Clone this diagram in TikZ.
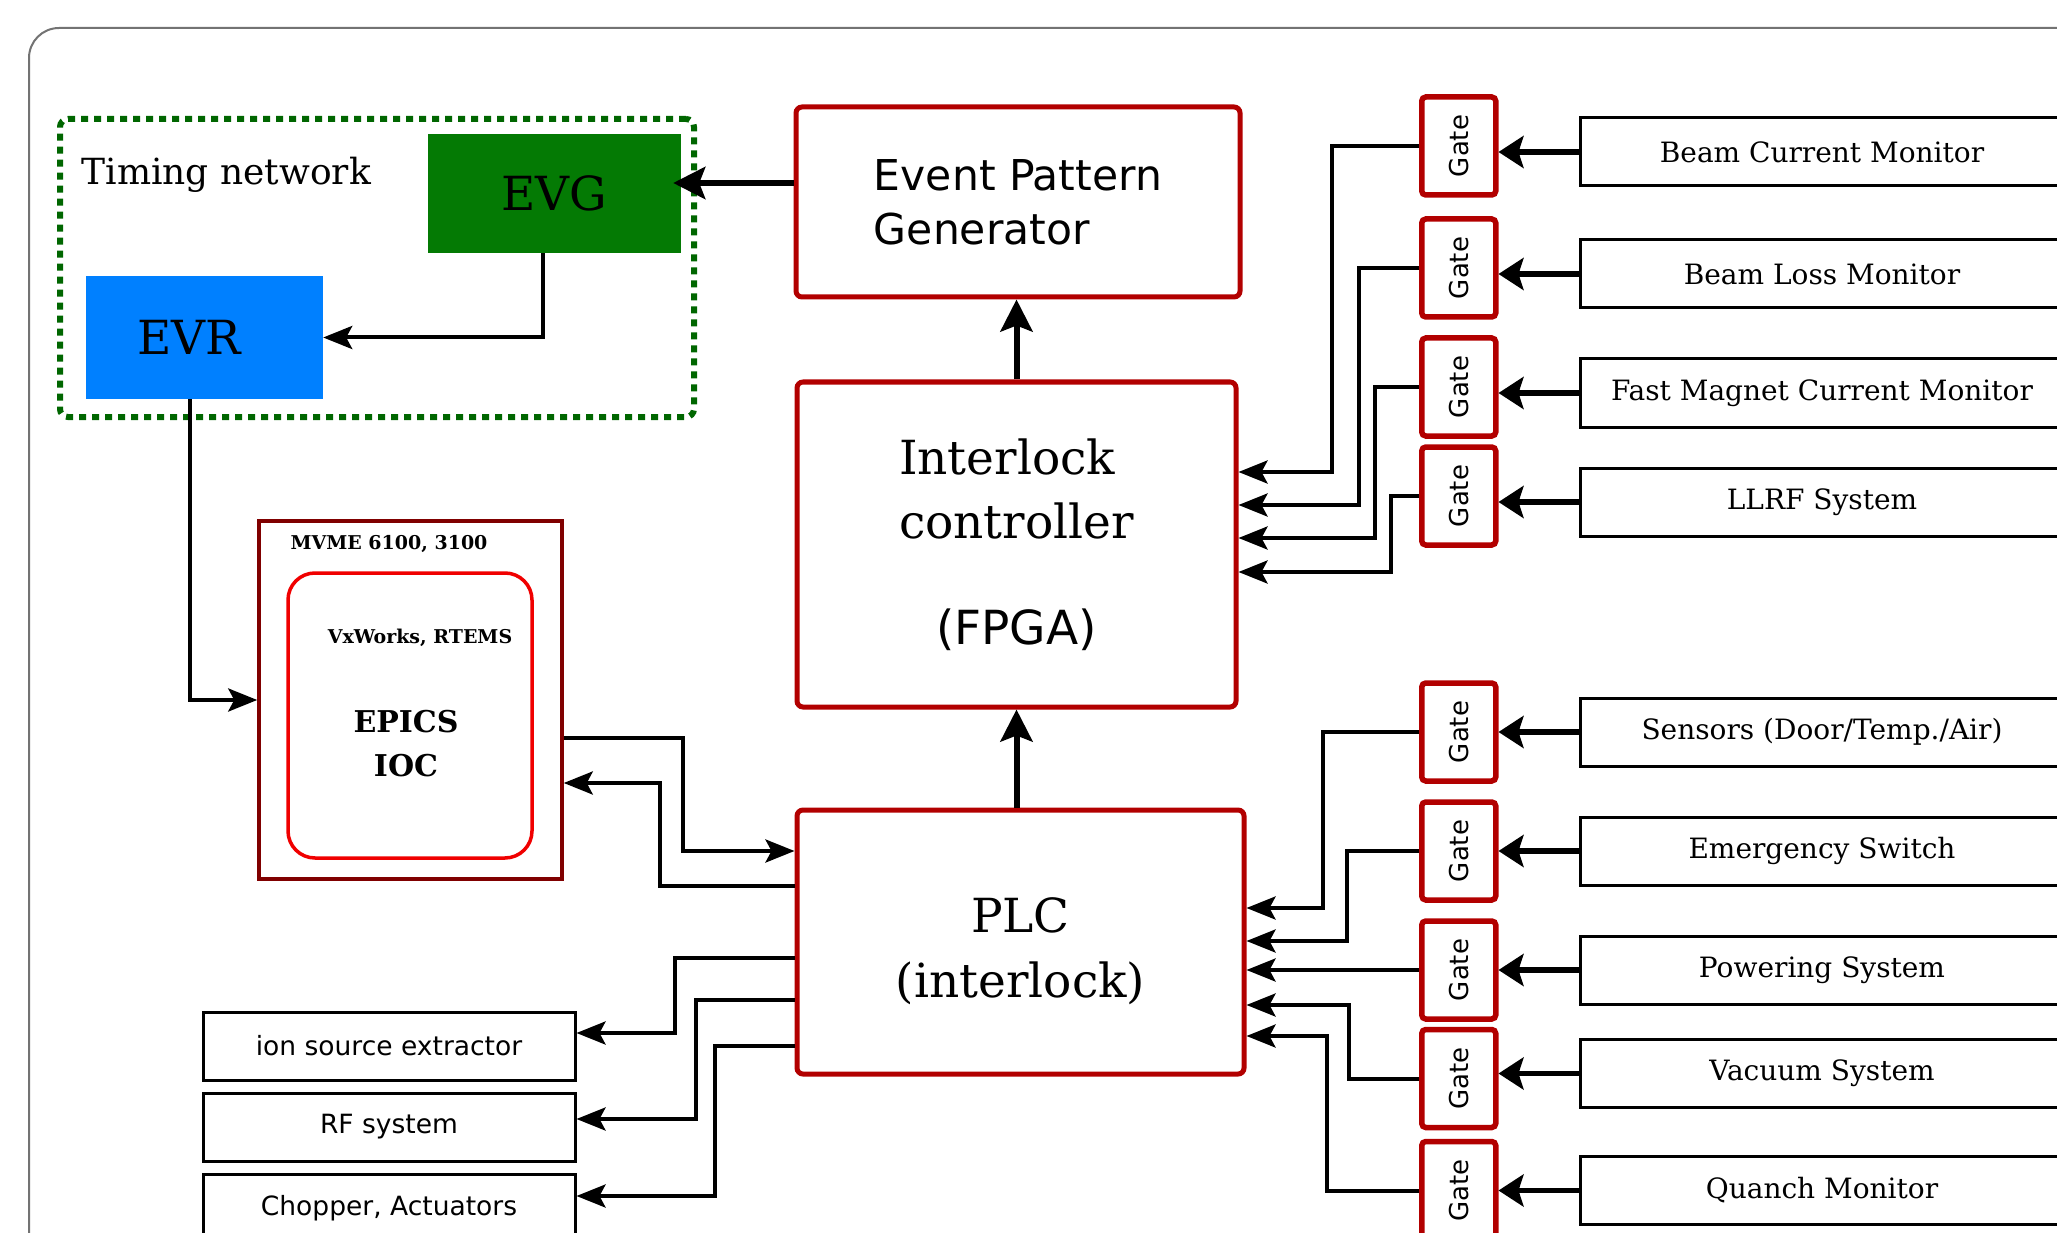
\documentclass[tikz,border=0pt]{standalone}
\usepackage{fontspec}
\setmainfont{DejaVu Serif}
\setsansfont{DejaVu Sans}
\usepackage{graphicx}
\usetikzlibrary{arrows.meta,positioning}
\definecolor{boxred}{RGB}{178,0,0}
\definecolor{mvred}{RGB}{128,0,0}
\definecolor{iocred}{RGB}{240,0,0}
\definecolor{evggreen}{RGB}{4,122,4}
\definecolor{evrblue}{RGB}{0,128,255}
\definecolor{netgreen}{RGB}{0,102,0}
\newcommand{\fsz}[2]{\fontsize{#1}{#2}\selectfont}

\begin{document}
\begin{tikzpicture}[x=1pt,y=-1pt,
  outerfr/.style={draw=black!55,line width=2pt,rounded corners=30pt},
  tnet/.style={draw=netgreen,line width=6pt,dash pattern=on 7pt off 6pt,rounded corners=8pt,
               minimum width=634pt,minimum height=298pt},
  evbx/.style={inner sep=0pt,font=\fsz{47}{56}},
  rbox/.style={draw=boxred,line width=5pt,rounded corners=6pt},
  gatebx/.style={draw=boxred,line width=5.5pt,rounded corners=4pt,minimum width=74pt,
                 minimum height=98pt,inner sep=0pt,font=\sffamily\fsz{26}{30}},
  monbx/.style={draw,line width=3pt,minimum width=484pt,minimum height=68pt,font=\fsz{28}{34}},
  outbx/.style={draw,line width=3pt,minimum width=372pt,minimum height=68pt,
                font=\sffamily\fsz{26.5}{32}},
  cn/.style={-{Stealth[length=29pt,width=23pt,inset=6pt]},line width=4pt},
  inp/.style={-{Stealth[length=25pt,width=32pt,inset=5pt]},line width=5.5pt},
  thk/.style={-{Stealth[length=32pt,width=32pt,inset=6pt]},line width=6pt}
]
\useasboundingbox (0,0) rectangle (2057,1233);
\clip (0,0) rectangle (2057,1233);
\draw[outerfr] (29,28) rectangle (2140,1320);

% timing network
\node[tnet] (tnet) at (377,268) {};
\node[anchor=base west,font=\fsz{36}{42}] (tlbl) at (78,185) {Timing network};
\node[evbx,fill=evggreen,minimum width=253pt,minimum height=119pt] (evg) at (554.5,193.5) {EVG};
\node[evbx,fill=evrblue,minimum width=237pt,minimum height=123pt] (evr) at (204.5,337.5) {EVR\hspace*{30pt}};

% controllers
\node[rbox,minimum width=444pt,minimum height=190pt,align=left,font=\sffamily\fsz{42.5}{54}]
  (epg) at (1018,202) {Event Pattern\\Generator};
\node[rbox,minimum width=439pt,minimum height=325pt,align=center,font=\fsz{47}{64}]
  (ilk) at (1016.5,544.5) {\rlap{Interlock}\phantom{controller}\\controller\\[42pt]\sffamily (FPGA)};
\node[rbox,minimum width=447pt,minimum height=264pt,align=center,font=\fsz{47}{65}]
  (plc) at (1020.5,942) {\rule{0pt}{54pt}PLC\\(interlock)};

% IOC
\node[draw=mvred,line width=3.5pt,minimum width=303pt,minimum height=358pt] (mvme) at (410.5,700) {};
\node[draw=iocred,line width=3.5pt,rounded corners=27pt,minimum width=244pt,minimum height=285pt]
  (ioc) at (410,715.5) {};
\node[anchor=base west,font=\bfseries\fsz{19}{23}] (mvlbl) at (287,549) {MVME 6100, 3100};
\node[anchor=base,font=\bfseries\fsz{19}{23}] (oslbl) at (420,643) {VxWorks, RTEMS};
\node[align=center,font=\bfseries\fsz{30}{44}] (epics) at (406,744) {EPICS\\IOC};

% fast inputs
\node[monbx] (m1) at (1822,152) {Beam Current Monitor};
\node[gatebx,left=80pt of m1,yshift=6pt] (g1) {\rotatebox{90}{Gate}};
\node[monbx] (m2) at (1822,274) {Beam Loss Monitor};
\node[gatebx,left=80pt of m2,yshift=6pt] (g2) {\rotatebox{90}{Gate}};
\node[monbx] (m3) at (1822,393) {Fast Magnet Current Monitor};
\node[gatebx,left=80pt of m3,yshift=6pt] (g3) {\rotatebox{90}{Gate}};
\node[monbx] (m4) at (1822,502) {LLRF System};
\node[gatebx,left=80pt of m4,yshift=6pt] (g4) {\rotatebox{90}{Gate}};

% slow inputs
\node[monbx] (m5) at (1822,732) {Sensors (Door/Temp./Air)};
\node[gatebx,left=80pt of m5] (g5) {\rotatebox{90}{Gate}};
\node[monbx] (m6) at (1822,851) {Emergency Switch};
\node[gatebx,left=80pt of m6] (g6) {\rotatebox{90}{Gate}};
\node[monbx] (m7) at (1822,970) {Powering System};
\node[gatebx,left=80pt of m7] (g7) {\rotatebox{90}{Gate}};
\node[monbx] (m8) at (1822,1073.5) {Vacuum System};
\node[gatebx,left=80pt of m8,yshift=-5pt] (g8) {\rotatebox{90}{Gate}};
\node[monbx] (m9) at (1822,1190.5) {Quanch Monitor};
\node[gatebx,left=80pt of m9] (g9) {\rotatebox{90}{Gate}};

% outputs
\node[outbx] (out1) at (389,1046) {ion source extractor};
\node[outbx,below=10pt of out1] (out2) {RF system};
\node[outbx,below=10pt of out2] (out3) {Chopper, Actuators};

% connectors
\draw[thk,shorten >=-8pt] ([yshift=19pt]epg.west) -- ([yshift=10.5pt]evg.east);
\draw[cn] ([xshift=-11.5pt]evg.south) |- (evr.east);
\draw[cn] ([xshift=-14.5pt]evr.south) |- (mvme.west);
\draw[thk] (ilk.north) -- (ilk.north |- epg.south);
\draw[thk] (ilk.south |- plc.north) -- (ilk.south);
\draw[cn] ([yshift=-38pt]mvme.east) -- ++(119,0) |- ([yshift=91pt]plc.west);
\draw[cn] ([yshift=56pt]plc.west) -- ++(-134.5,0) |- ([yshift=-83pt]mvme.east);

\draw[inp] (m1.west) -- (g1.east |- m1.west);
\draw[inp] (m2.west) -- (g2.east |- m2.west);
\draw[inp] (m3.west) -- (g3.east |- m3.west);
\draw[inp] (m4.west) -- (g4.east |- m4.west);
\draw[inp] (m5.west) -- (g5.east |- m5.west);
\draw[inp] (m6.west) -- (g6.east |- m6.west);
\draw[inp] (m7.west) -- (g7.east |- m7.west);
\draw[inp] (m8.west) -- (g8.east |- m8.west);
\draw[inp] (m9.west) -- (g9.east |- m9.west);

\draw[cn] (g1.west) -- ++(-86.75,0) |- ([yshift=72.5pt]ilk.east);
\draw[cn] (g2.west) -- ++(-59.75,0) |- ([yshift=39.5pt]ilk.east);
\draw[cn] (g3.west) -- ++(-43.75,0) |- ([yshift=6.5pt]ilk.east);
\draw[cn] (g4.west) -- ++(-27.75,0) |- ([yshift=-27.5pt]ilk.east);

\draw[cn] (g5.west) -- ++(-95.75,0) |- ([yshift=34pt]plc.east);
\draw[cn] (g6.west) -- ++(-71.75,0) |- ([yshift=1pt]plc.east);
\draw[cn] (g7.west) -- (plc.east |- g7.west);
\draw[cn] (g8.west) -- ++(-69.75,0) |- ([yshift=-63pt]plc.east);
\draw[cn] (g9.west) -- ++(-91.75,0) |- ([yshift=-94pt]plc.east);

\draw[cn] ([yshift=-16pt]plc.west) -- ++(-119.5,0) |- ([yshift=13pt]out1.east);
\draw[cn] ([yshift=-58pt]plc.west) -- ++(-98.5,0) |- ([yshift=8pt]out2.east);
\draw[cn] ([yshift=-104pt]plc.west) -- ++(-79.5,0) |- ([yshift=12pt]out3.east);
\end{tikzpicture}
\end{document}
